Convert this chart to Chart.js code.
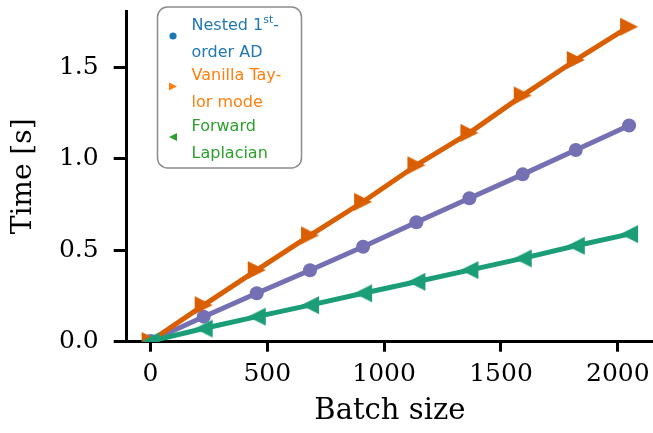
<!DOCTYPE html>
<html><head><meta charset="utf-8">
<script src="https://cdn.jsdelivr.net/npm/chart.js@4.4.1/dist/chart.umd.min.js"></script>
<style>html,body{margin:0;padding:0;background:#fff;overflow:hidden}#wrap{width:653px;height:433px}</style>
</head><body>
<div id="wrap"><canvas id="c" width="653" height="433"></canvas></div>
<script>
// ---- data ----
const batchSizes   = [1, 228, 455, 683, 910, 1138, 1365, 1593, 1820, 2048];
const nestedTimes  = [0.004, 0.137, 0.265, 0.391, 0.520, 0.654, 0.785, 0.916, 1.049, 1.183];
const vanillaTimes = [0.004, 0.200, 0.392, 0.582, 0.766, 0.966, 1.143, 1.348, 1.542, 1.724];
const forwardTimes = [0.003, 0.072, 0.137, 0.200, 0.265, 0.328, 0.392, 0.456, 0.525, 0.589];
const seriesNames  = ['Nested 1st-order AD', 'Vanilla Taylor mode', 'Forward Laplacian'];
const legendLines  = [['Nested 1^st-', 'order AD'], ['Vanilla Tay-', 'lor mode'], ['Forward', 'Laplacian']];
const xTicks = [0, 500, 1000, 1500, 2000];
const yTicks = [0, 0.5, 1.0, 1.5];
const xTitle = 'Batch size';
const yTitle = 'Time [s]';

// ---- styles ----
const lineColors   = ['#7570b3', '#d95f02', '#1b9e77'];
const legendColors = ['#1f77b4', '#ff7f0e', '#2ca02c'];

// matplotlib-like limits (5% margins, y from 0)
const xs = batchSizes;
const xSpan = Math.max(...xs) - Math.min(...xs);
const xMin = Math.min(...xs) - 0.05 * xSpan, xMax = Math.max(...xs) + 0.05 * xSpan;
const allY = nestedTimes.concat(vanillaTimes, forwardTimes);
const yMax = Math.max(...allY) + 0.05 * (Math.max(...allY) - Math.min(...allY));

function triCanvas(dir, r, color) {
  const s = 2 * r + 2, c = document.createElement('canvas');
  c.width = s; c.height = s;
  const g = c.getContext('2d'), m = s / 2;
  g.fillStyle = color; g.beginPath();
  if (dir > 0) { g.moveTo(m + r, m); g.lineTo(m - r, m - r); g.lineTo(m - r, m + r); }
  else { g.moveTo(m - r, m); g.lineTo(m + r, m - r); g.lineTo(m + r, m + r); }
  g.closePath(); g.fill();
  return c;
}

function pts(ys) { return batchSizes.map((x, i) => ({x: x, y: ys[i]})); }

function rrect(ctx, x, y, w, h, r) {
  ctx.beginPath();
  ctx.moveTo(x + r, y); ctx.lineTo(x + w - r, y); ctx.arcTo(x + w, y, x + w, y + r, r);
  ctx.lineTo(x + w, y + h - r); ctx.arcTo(x + w, y + h, x + w - r, y + h, r);
  ctx.lineTo(x + r, y + h); ctx.arcTo(x, y + h, x, y + h - r, r);
  ctx.lineTo(x, y + r); ctx.arcTo(x, y, x + r, y, r); ctx.closePath();
}

const legendPlugin = {
  id: 'mplLegend',
  afterDraw(chart) {
    const ctx = chart.ctx;
    ctx.save();
    rrect(ctx, 157.5, 7, 144, 161, 10);
    ctx.fillStyle = 'rgba(255,255,255,0.8)'; ctx.fill();
    ctx.lineWidth = 1.5; ctx.strokeStyle = '#8c8c8c'; ctx.stroke();
    const font = '16px "DejaVu Sans"', supFont = '11px "DejaVu Sans"';
    const textX = 191.5, first = 29.5, intra = 27, step = 50.5;
    legendLines.forEach((lines, i) => {
      const col = legendColors[i];
      ctx.fillStyle = col;
      lines.forEach((ln, j) => {
        const yb = first + i * step + j * intra;
        let x = textX;
        const parts = ln.split(/\^(\w+)/);
        parts.forEach((p, k) => {
          if (k % 2 === 1) {
            ctx.font = supFont; ctx.textBaseline = 'alphabetic';
            ctx.fillText(p, x, yb - 6.5); x += ctx.measureText(p).width;
          } else if (p) {
            ctx.font = font; ctx.textBaseline = 'alphabetic';
            ctx.fillText(p, x, yb); x += ctx.measureText(p).width;
          }
        });
      });
      const my = first + i * step + intra / 2 - 7;
      const mx = 173;
      ctx.beginPath();
      if (i === 0) { ctx.arc(mx, my, 3.6, 0, Math.PI * 2); }
      else if (i === 1) { ctx.moveTo(mx + 4, my); ctx.lineTo(mx - 4, my - 4); ctx.lineTo(mx - 4, my + 4); }
      else { ctx.moveTo(mx - 4, my); ctx.lineTo(mx + 4, my - 4); ctx.lineTo(mx + 4, my + 4); }
      ctx.closePath(); ctx.fill();
    });
    ctx.restore();
  }
};

const serif = '"DejaVu Serif"';
new Chart(document.getElementById('c'), {
  type: 'line',
  data: {
    datasets: [
      {label: seriesNames[0], data: pts(nestedTimes), borderColor: lineColors[0], backgroundColor: lineColors[0],
       borderWidth: 5, pointRadius: 7, pointStyle: 'circle', pointBorderWidth: 0, clip: 0, order: 2,
       tension: 0, borderJoinStyle: 'round', borderCapStyle: 'round'},
      {label: seriesNames[1], data: pts(vanillaTimes), borderColor: lineColors[1], backgroundColor: lineColors[1],
       borderWidth: 5, pointRadius: 9, pointStyle: triCanvas(1, 9, lineColors[1]), pointBorderWidth: 0, clip: 0, order: 1,
       tension: 0, borderJoinStyle: 'round', borderCapStyle: 'round'},
      {label: seriesNames[2], data: pts(forwardTimes), borderColor: lineColors[2], backgroundColor: lineColors[2],
       borderWidth: 5, pointRadius: 9, pointStyle: triCanvas(-1, 9, lineColors[2]), pointBorderWidth: 0, clip: 0, order: 0,
       tension: 0, borderJoinStyle: 'round', borderCapStyle: 'round'}
    ]
  },
  options: {
    responsive: false, animation: false, devicePixelRatio: 1,
    layout: {autoPadding: false, padding: {top: 11, left: 0, right: 0, bottom: 0}},
    plugins: {legend: {display: false}, tooltip: {enabled: false}},
    scales: {
      x: {
        type: 'linear', min: xMin, max: xMax,
        afterBuildTicks: s => { s.ticks = xTicks.map(v => ({value: v})); },
        afterFit: s => { s.height = 91.3; s.paddingLeft = 0; s.paddingRight = 0; },
        ticks: {callback: v => String(v), font: {family: serif, size: 25}, color: '#000', padding: 8, maxRotation: 0, autoSkip: false},
        grid: {display: true, drawOnChartArea: false, drawTicks: true, tickLength: 10, tickWidth: 3, tickColor: '#000'},
        border: {display: true, color: '#000', width: 3},
        title: {display: true, text: xTitle, font: {family: serif, size: 29}, color: '#000', padding: {top: 0, bottom: 4}}
      },
      y: {
        type: 'linear', min: 0, max: yMax,
        afterBuildTicks: s => { s.ticks = yTicks.map(v => ({value: v})); },
        afterFit: s => { s.width = 126.7; s.paddingTop = 0; s.paddingBottom = 0; },
        ticks: {callback: v => Number(v).toFixed(1), font: {family: serif, size: 25}, color: '#000', padding: 15, autoSkip: false},
        grid: {display: true, drawOnChartArea: false, drawTicks: true, tickLength: 13, tickWidth: 3, tickColor: '#000'},
        border: {display: true, color: '#000', width: 3},
        title: {display: true, text: yTitle, font: {family: serif, size: 28}, color: '#000', padding: {top: 7, bottom: 0}}
      }
    }
  },
  plugins: [legendPlugin]
});
</script>
</body></html>
